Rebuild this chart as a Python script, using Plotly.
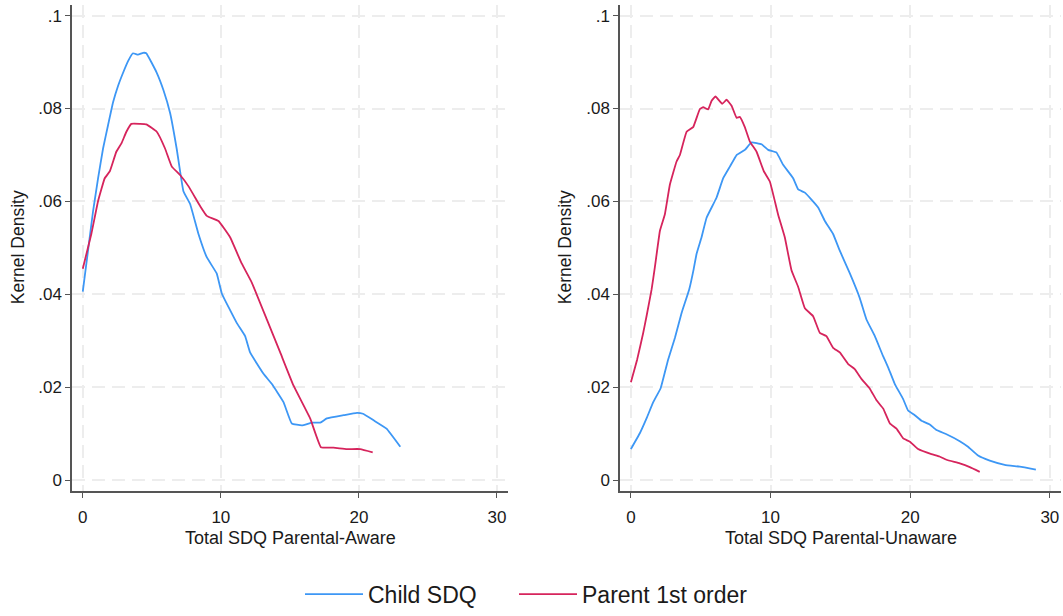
import plotly.graph_objects as go

# ---- Data ----
aware_child_x = [0, 0.38, 0.75, 1.11, 1.47, 1.83, 2.2, 2.56, 2.92, 3.28, 3.64, 4.0, 4.37, 4.6, 5.36, 5.84, 6.33, 6.8, 7.29, 7.78, 8.38, 8.98, 9.7, 10.07,
                 11.16, 11.76, 12.12, 13.09, 13.7, 14.54, 15.14, 15.87, 16.6, 17.2, 17.68, 18.9, 19.86, 20.3, 21.06, 22.0, 23.0]
aware_child_y = [0.0406, 0.0494, 0.058, 0.065, 0.0714, 0.0764, 0.0814, 0.0849, 0.0877, 0.0902, 0.0919, 0.0916, 0.092, 0.0919, 0.0877, 0.084, 0.079, 0.0714, 0.0622, 0.0594, 0.053, 0.048, 0.0445, 0.0402,
                 0.0338, 0.031, 0.0275, 0.0229, 0.0207, 0.0168, 0.0122, 0.0118, 0.0124, 0.0124, 0.0133, 0.014, 0.0145, 0.0143, 0.0129, 0.0111, 0.0072]

aware_parent_x = [0, 0.62, 1.11, 1.59, 1.96, 2.43, 2.8, 3.16, 3.52, 4.13, 4.6, 5.36, 5.96, 6.45, 7.05, 7.65, 8.5, 8.98, 9.83, 10.67, 11.52,
                  12.25, 13.33, 14.3, 15.26, 16.47, 17.25, 18.16, 19.13, 20.1, 21.0]
aware_parent_y = [0.0455, 0.053, 0.0601, 0.065, 0.0665, 0.0707, 0.0725, 0.075, 0.0767, 0.0767, 0.0766, 0.075, 0.0714, 0.0675, 0.0657, 0.0633, 0.059, 0.0569, 0.0558, 0.0523, 0.0466,
                  0.0425, 0.0346, 0.0275, 0.0204, 0.0133, 0.0071, 0.0070, 0.0067, 0.0067, 0.006]

unaware_child_x = [0, 0.64, 1.12, 1.6, 2.13, 2.67, 3.15, 3.63, 4.17, 4.5, 4.7, 5.06, 5.42, 6.13, 6.61, 7.09, 7.57, 8.16, 8.64, 9.36,
                   9.83, 10.43, 10.9, 11.62, 11.98, 12.46, 12.93, 13.41, 13.89, 14.48, 14.96, 15.68, 16.39, 16.87, 17.47, 18.06,
                   18.42, 18.9, 19.49, 19.85, 20.33, 20.81, 21.4, 21.88, 22.6, 23.55, 24.14, 24.86, 25.7, 26.77, 27.85, 29.0]
unaware_child_y = [0.0067, 0.0101, 0.0133, 0.0168, 0.0198, 0.026, 0.0306, 0.036, 0.041, 0.0455, 0.0487, 0.0523, 0.0565, 0.0608, 0.065, 0.0675, 0.07, 0.0711, 0.0727, 0.0723,
                   0.0711, 0.0705, 0.0679, 0.065, 0.0626, 0.0619, 0.0604, 0.0587, 0.0558, 0.053, 0.0494, 0.0445, 0.0392, 0.0346, 0.031, 0.0267,
                   0.0243, 0.0207, 0.0175, 0.015, 0.014, 0.0128, 0.012, 0.0108, 0.0099, 0.0084, 0.0072, 0.0053, 0.0042, 0.0033, 0.0029, 0.0023]

unaware_parent_x = [0, 0.45, 0.88, 1.12, 1.48, 1.72, 2.08, 2.43, 2.79, 3.27, 3.51, 3.99, 4.46, 4.94, 5.18, 5.53, 5.78, 6.06, 6.54, 6.85,
                    7.21, 7.57, 7.8, 8.16, 8.52, 9.0, 9.52, 9.95, 10.54, 11.02, 11.5, 11.98, 12.46, 13.05, 13.53, 14.0, 14.48, 14.96,
                    15.56, 16.03, 16.51, 17.11, 17.59, 18.07, 18.55, 19.02, 19.5, 19.98, 20.57, 21.52, 22.1, 22.6, 23.55, 24.27, 24.98]
unaware_parent_y = [0.0211, 0.026, 0.0317, 0.0353, 0.041, 0.0459, 0.0537, 0.0572, 0.0636, 0.0686, 0.07, 0.075, 0.076, 0.0799, 0.0803, 0.0798, 0.0817, 0.0826, 0.081, 0.0819,
                    0.0806, 0.078, 0.0782, 0.076, 0.0729, 0.0707, 0.0665, 0.0643, 0.0572, 0.0523, 0.0452, 0.0416, 0.037, 0.0353, 0.0317, 0.031, 0.0285, 0.0275,
                    0.025, 0.0239, 0.0218, 0.0197, 0.0172, 0.0154, 0.0122, 0.0111, 0.009, 0.0083, 0.0067, 0.0056, 0.0051, 0.0044, 0.0036, 0.0028, 0.0018]

x_ticks = [0, 10, 20, 30]
y_ticks = [0, 0.02, 0.04, 0.06, 0.08, 0.1]
y_tick_labels = ["0", ".02", ".04", ".06", ".08", ".1"]
series_names = ["Child SDQ", "Parent 1st order"]
x_titles = ["Total SDQ Parental-Aware", "Total SDQ Parental-Unaware"]
y_title = "Kernel Density"

BLUE = "#3d97f5"
RED = "#d6245c"
FONT = "Liberation Sans, Arial, sans-serif"
TXT = "#1a1a1a"
W, H = 1063, 616

fig = go.Figure()
panels = [
    ("x", "y", aware_child_x, aware_child_y, aware_parent_x, aware_parent_y, True),
    ("x2", "y2", unaware_child_x, unaware_child_y, unaware_parent_x, unaware_parent_y, False),
]
for xa, ya, cx, cy, px, py, show in panels:
    fig.add_trace(go.Scatter(x=cx, y=cy, mode="lines", name=series_names[0], xaxis=xa, yaxis=ya,
                             line=dict(color=BLUE, width=1.8, shape="spline", smoothing=0.3),
                             showlegend=show, legend="legend"))
    fig.add_trace(go.Scatter(x=px, y=py, mode="lines", name=series_names[1], xaxis=xa, yaxis=ya,
                             line=dict(color=RED, width=1.8, shape="spline", smoothing=0.3),
                             showlegend=show, legend="legend2"))

ydom = [1 - 497 / H, 1 - 5 / H]
doms = [[72 / W, 508 / W], [620 / W, 1061 / W]]

axis_common = dict(showline=True, linecolor="#555555", linewidth=1.5, ticks="outside", ticklen=5,
                   tickcolor="#555555", tickwidth=1.2, showgrid=True, gridcolor="#ededed", griddash="13px,7px",
                   gridwidth=2, zeroline=False, tickfont=dict(family=FONT, size=17, color=TXT))

leg_common = dict(orientation="h", xanchor="left", y=1 - 601 / H, yanchor="middle",
                  font=dict(family=FONT, size=23, color=TXT), itemwidth=58, bgcolor="rgba(0,0,0,0)")

layout = dict(
    width=W, height=H, margin=dict(l=0, r=0, t=0, b=0),
    paper_bgcolor="white", plot_bgcolor="white",
    font=dict(family=FONT, color=TXT),
    legend=dict(leg_common, x=(305 - 5) / W),
    legend2=dict(leg_common, x=(519 - 5) / W),
    showlegend=True,
)
for i, (xa, ya) in enumerate([("xaxis", "yaxis"), ("xaxis2", "yaxis2")]):
    suffix = "" if i == 0 else "2"
    layout[xa] = dict(axis_common, domain=doms[i], range=[-0.78, 30.8], tickvals=x_ticks,
                      anchor="y" + suffix, ticklabelstandoff=4)
    layout[ya] = dict(axis_common, domain=ydom, range=[-0.0024, 0.1023], tickvals=y_ticks,
                      ticktext=y_tick_labels, anchor="x" + suffix)

fig.update_layout(**layout)

annos = []
centers = [(72 + 508) / 2 / W, (620 + 1061) / 2 / W]
for i in range(2):
    annos.append(dict(text=x_titles[i], x=centers[i], y=1 - 544 / H, xref="paper", yref="paper",
                      showarrow=False, font=dict(family=FONT, size=18, color=TXT),
                      xanchor="center", yanchor="middle"))
for xp in [18, 565]:
    annos.append(dict(text=y_title, x=xp / W, y=1 - 250 / H, xref="paper", yref="paper", textangle=-90,
                      showarrow=False, font=dict(family=FONT, size=17.5, color=TXT),
                      xanchor="center", yanchor="middle"))
fig.update_layout(annotations=annos)

fig.write_html("out.html")
